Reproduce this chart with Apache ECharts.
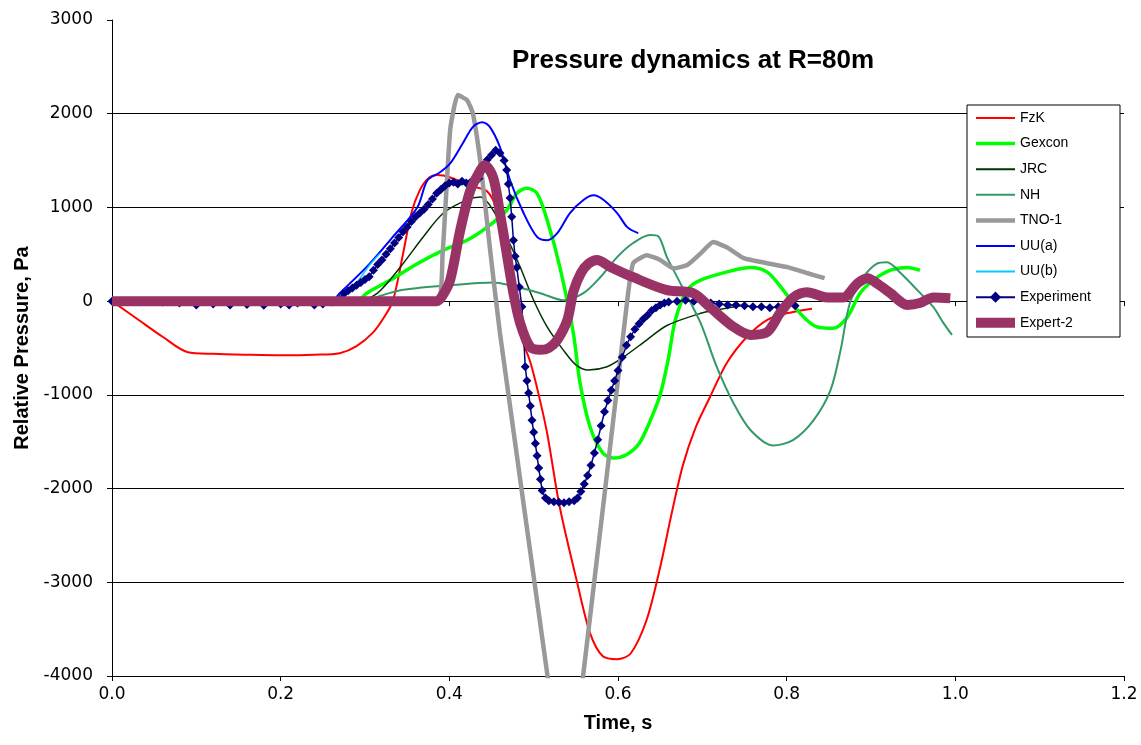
<!DOCTYPE html>
<html>
<head>
<meta charset="utf-8">
<script src="https://cdn.jsdelivr.net/npm/echarts@6/dist/echarts.min.js"></script>
<style>
html,body{margin:0;padding:0;background:#fff;}
#chart{width:1141px;height:745px;}
</style>
</head>
<body>
<div id="chart"></div>
<script>
// ---- Data (time s, relative pressure Pa) ----
const titleText = 'Pressure dynamics at R=80m';
const xTitle = 'Time, s';
const yTitle = 'Relative Pressure, Pa';
const seriesNames = ['FzK','Gexcon','JRC','NH','TNO-1','UU(a)','UU(b)','Experiment','Expert-2'];

const fzk = [[0,0],[0.03,-190],[0.06,-380],[0.09,-545],[0.12,-562],[0.16,-572],[0.2,-578],[0.24,-572],[0.27,-555],[0.29,-480],[0.31,-330],[0.322,-180],[0.333,0],[0.345,500],[0.355,940],[0.365,1185],[0.375,1310],[0.385,1345],[0.393,1340],[0.41,1290],[0.43,1220],[0.445,1170],[0.455,1000],[0.465,520],[0.475,20],[0.485,-380],[0.496,-650],[0.506,-1000],[0.516,-1410],[0.531,-2200],[0.551,-2980],[0.567,-3545],[0.582,-3790],[0.599,-3820],[0.615,-3760],[0.634,-3400],[0.65,-2840],[0.664,-2250],[0.677,-1750],[0.692,-1350],[0.709,-1025],[0.729,-660],[0.753,-380],[0.777,-200],[0.8,-130],[0.83,-80]];

const gexcon = [[0,0],[0.29,0],[0.302,85],[0.33,225],[0.362,400],[0.393,545],[0.421,650],[0.445,790],[0.468,970],[0.48,1150],[0.492,1205],[0.504,1150],[0.516,865],[0.531,365],[0.547,-340],[0.555,-875],[0.567,-1345],[0.582,-1620],[0.595,-1675],[0.61,-1640],[0.625,-1520],[0.638,-1280],[0.65,-1000],[0.66,-600],[0.668,-200],[0.682,117],[0.698,225],[0.737,330],[0.757,360],[0.777,310],[0.796,117],[0.816,-130],[0.836,-275],[0.855,-290],[0.872,-170],[0.887,85],[0.903,225],[0.923,330],[0.943,360],[0.958,330]];

const jrc = [[0,0],[0.29,0],[0.314,80],[0.342,365],[0.369,685],[0.393,940],[0.421,1080],[0.437,1110],[0.452,970],[0.468,685],[0.484,365],[0.5,10],[0.516,-275],[0.535,-520],[0.55,-680],[0.565,-735],[0.587,-700],[0.606,-600],[0.634,-415],[0.658,-260],[0.698,-130],[0.717,-95],[0.75,-40]];

const nh = [[0,0],[0.29,0],[0.342,117],[0.401,170],[0.452,200],[0.48,150],[0.508,85],[0.535,10],[0.559,85],[0.579,255],[0.599,470],[0.618,620],[0.638,705],[0.648,690],[0.658,470],[0.674,190],[0.698,-235],[0.717,-700],[0.737,-1090],[0.757,-1375],[0.784,-1540],[0.808,-1480],[0.832,-1270],[0.852,-950],[0.864,-520],[0.875,-20],[0.891,255],[0.907,400],[0.919,415],[0.935,300],[0.955,117],[0.974,-65],[0.986,-235],[0.996,-360]];

const tno1 = [[0,0],[0.385,0],[0.392,500],[0.401,1825],[0.41,2200],[0.421,2145],[0.428,2000],[0.437,1470],[0.448,575],[0.46,-340],[0.516,-3970],[0.537,-5300],[0.559,-3970],[0.611,10],[0.618,405],[0.634,490],[0.65,440],[0.666,350],[0.682,385],[0.698,510],[0.713,630],[0.729,575],[0.749,460],[0.777,405],[0.8,365],[0.824,300],[0.845,245]];

const uua = [[0,0],[0.26,0],[0.27,85],[0.302,365],[0.333,685],[0.362,1000],[0.374,1290],[0.389,1375],[0.401,1470],[0.416,1685],[0.428,1860],[0.439,1910],[0.448,1860],[0.46,1645],[0.472,1290],[0.488,940],[0.504,685],[0.516,650],[0.528,725],[0.543,940],[0.559,1080],[0.571,1130],[0.583,1080],[0.599,940],[0.611,790],[0.624,725]];

const uub = [[0,0],[0.26,0],[0.27,60],[0.29,200],[0.305,380],[0.318,510]];

const experiment = [[0,0],[0.02,0],[0.04,0],[0.06,-10],[0.08,-20],[0.1,-40],[0.12,-30],[0.14,-40],[0.16,-35],[0.18,-45],[0.2,-30],[0.21,-40],[0.22,-20],[0.24,-40],[0.25,-30],[0.26,-10],[0.27,20],[0.275,80],[0.28,110],[0.285,140],[0.29,170],[0.295,200],[0.3,230],[0.305,260],[0.31,330],[0.315,390],[0.32,440],[0.325,500],[0.33,560],[0.335,620],[0.34,680],[0.345,740],[0.35,790],[0.355,850],[0.36,900],[0.365,940],[0.37,980],[0.375,1030],[0.38,1090],[0.385,1150],[0.39,1190],[0.395,1230],[0.4,1260],[0.405,1270],[0.41,1250],[0.415,1280],[0.42,1260],[0.425,1270],[0.43,1280],[0.435,1310],[0.44,1420],[0.445,1510],[0.45,1560],[0.455,1610],[0.46,1580],[0.465,1500],[0.468,1400],[0.47,1250],[0.472,1100],[0.474,900],[0.476,650],[0.478,480],[0.48,360],[0.483,150],[0.486,-60],[0.488,-350],[0.49,-700],[0.492,-850],[0.494,-980],[0.496,-1120],[0.498,-1270],[0.5,-1400],[0.502,-1520],[0.504,-1650],[0.506,-1780],[0.508,-1900],[0.51,-2020],[0.514,-2100],[0.518,-2130],[0.524,-2140],[0.53,-2145],[0.536,-2150],[0.542,-2140],[0.548,-2130],[0.552,-2100],[0.556,-2030],[0.56,-1950],[0.564,-1860],[0.568,-1750],[0.572,-1620],[0.576,-1480],[0.58,-1330],[0.584,-1180],[0.588,-1060],[0.592,-950],[0.596,-850],[0.6,-740],[0.605,-600],[0.61,-470],[0.615,-380],[0.62,-300],[0.625,-240],[0.63,-190],[0.635,-150],[0.64,-100],[0.645,-70],[0.65,-40],[0.655,-20],[0.66,-10],[0.67,0],[0.68,10],[0.69,0],[0.7,-10],[0.71,-20],[0.72,-30],[0.73,-40],[0.74,-40],[0.75,-50],[0.76,-60],[0.77,-60],[0.78,-70],[0.79,-60],[0.8,-50],[0.81,-50]];

const expert2 = [[0,0],[0.385,0],[0.392,60],[0.401,225],[0.413,760],[0.425,1185],[0.437,1400],[0.442,1450],[0.452,1320],[0.46,940],[0.468,510],[0.476,85],[0.484,-235],[0.496,-490],[0.508,-520],[0.518,-500],[0.528,-415],[0.54,-200],[0.547,100],[0.556,300],[0.565,400],[0.575,440],[0.591,365],[0.618,255],[0.658,117],[0.689,85],[0.709,-64],[0.737,-275],[0.757,-360],[0.777,-330],[0.792,-130],[0.808,40],[0.824,95],[0.848,40],[0.867,40],[0.884,190],[0.896,245],[0.907,190],[0.923,85],[0.943,-40],[0.958,-20],[0.974,40],[0.994,30]];

const seriesData = [fzk, gexcon, jrc, nh, tno1, uua, uub, experiment, expert2];
const colors = ['#FF0000','#00FF00','#003300','#339966','#999999','#0000FF','#00CCFF','#000080','#993366'];
const widths = [2, 3.5, 1.5, 2, 4.5, 2, 1.5, 1.5, 10];
const smooths = [0.3, 0.3, 0.3, 0.3, 0.15, 0.3, 0.3, false, 0.3];

const FONT = 'Liberation Sans, Arial, sans-serif';
const TICKFONT = 'DejaVu Sans, Liberation Sans, sans-serif';

const series = seriesNames.map((name, i) => {
  const isExp = name === 'Experiment';
  return {
    name: name,
    type: 'line',
    data: seriesData[i],
    xAxisIndex: 0,
    yAxisIndex: 0,
    smooth: smooths[i],
    symbol: isExp ? 'diamond' : 'none',
    symbolSize: isExp ? 9 : 0,
    showSymbol: isExp,
    lineStyle: { color: colors[i], width: widths[i] },
    itemStyle: { color: colors[i] },
    z: 2 + i,
    clip: true
  };
});

// empty series bound to the zero-crossing axis
series.push({ type: 'line', data: [], xAxisIndex: 1, yAxisIndex: 0, silent: true });

const legendData = seriesNames.map((name, i) => {
  const isExp = name === 'Experiment';
  return {
    name: name,
    itemStyle: isExp ? { color: colors[i] } : { opacity: 0 },
    lineStyle: { color: colors[i], width: Math.max(widths[i], 2) }
  };
});

const chart = echarts.init(document.getElementById('chart'), null, { renderer: 'canvas' });
chart.setOption({
  animation: false,
  backgroundColor: '#fff',
  title: {
    text: titleText,
    left: 507, top: 43,
    z: 60,
    textStyle: { fontFamily: FONT, fontSize: 26, fontWeight: 'bold', color: '#000' }
  },
  grid: { left: 112, right: 17, top: 20, bottom: 69, containLabel: false },
  xAxis: [{
    type: 'value', min: 0, max: 1.2, interval: 0.2,
    position: 'bottom',
    name: xTitle, nameLocation: 'middle', nameGap: 37,
    nameTextStyle: { fontFamily: FONT, fontSize: 20, fontWeight: 'bold', color: '#000' },
    axisLine: { onZero: false, lineStyle: { color: '#000', width: 1 } },
    axisTick: { inside: false, length: 5, lineStyle: { color: '#000' } },
    axisLabel: { fontFamily: TICKFONT, fontSize: 17, color: '#000', margin: 10,
      formatter: v => v.toFixed(1) },
    splitLine: { show: false }
  }, {
    type: 'value', min: 0, max: 1.2, interval: 0.2,
    position: 'bottom',
    axisLine: { onZero: true, onZeroAxisIndex: 0, lineStyle: { color: '#000', width: 1 } },
    axisTick: { inside: false, length: 5, lineStyle: { color: '#000' } },
    axisLabel: { show: false },
    splitLine: { show: false }
  }],
  yAxis: {
    type: 'value', min: -4000, max: 3000, interval: 1000,
    name: yTitle, nameLocation: 'middle', nameGap: 70,
    nameTextStyle: { fontFamily: FONT, fontSize: 20, fontWeight: 'bold', color: '#000' },
    axisLine: { show: true, lineStyle: { color: '#000', width: 1 } },
    axisTick: { show: true, inside: false, length: 5, lineStyle: { color: '#000' } },
    axisLabel: { fontFamily: TICKFONT, fontSize: 17, color: '#000', margin: 19,
      formatter: v => String(v) },
    splitLine: { show: true, lineStyle: { color: ['#000','#000','#000','#000','#000','#000','#000','rgba(0,0,0,0)'], width: 1 } }
  },
  legend: {
    data: legendData,
    orient: 'vertical',
    left: 971, top: 111,
    itemWidth: 39, itemHeight: 14, itemGap: 11.6,
    padding: 0,
    z: 70,
    textStyle: { fontFamily: FONT, fontSize: 14, color: '#000' }
  },
  graphic: [{
    type: 'rect',
    shape: { x: 967, y: 105, width: 153, height: 232 },
    style: { fill: '#fff', stroke: '#000', lineWidth: 1 },
    z: 50, silent: true
  }],
  series: series
});
</script>
</body>
</html>
